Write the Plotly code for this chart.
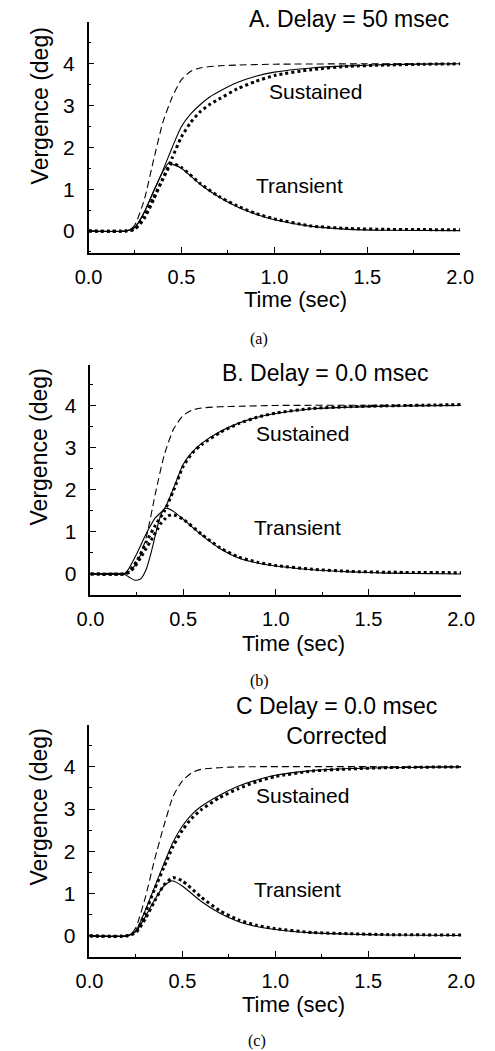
import plotly.graph_objects as go

# ---------------- data ----------------
# Panel A: Delay = 50 msec
a_dash_t = [0, 0.2, 0.22, 0.25, 0.3, 0.35, 0.4, 0.45, 0.5, 0.55, 0.6, 0.7, 0.8, 1.0, 1.5, 2.0]
a_dash_v = [0, 0, 0.02, 0.15, 0.75, 1.7, 2.6, 3.2, 3.62, 3.82, 3.9, 3.95, 3.97, 3.99, 4.0, 4.0]
a_sus_t = [0, 0.2, 0.25, 0.3, 0.35, 0.4, 0.45, 0.5, 0.55, 0.6, 0.65, 0.7, 0.8, 0.9, 1.0, 1.2, 1.4, 1.6, 1.8, 2.0]
a_sus_solid = [0, 0, 0.08, 0.45, 0.95, 1.45, 2.0, 2.5, 2.8, 3.02, 3.2, 3.33, 3.55, 3.7, 3.8, 3.9, 3.95, 3.98, 3.99, 4.0]
a_sus_dot = [0, 0, 0.05, 0.35, 0.8, 1.25, 1.75, 2.25, 2.6, 2.85, 3.02, 3.15, 3.4, 3.58, 3.72, 3.86, 3.94, 3.97, 3.99, 4.0]
a_tr_t = [0, 0.2, 0.25, 0.3, 0.35, 0.4, 0.43, 0.45, 0.5, 0.6, 0.7, 0.8, 0.9, 1.0, 1.2, 1.4, 1.6, 2.0]
a_tr_solid = [0, 0, 0.1, 0.45, 0.95, 1.42, 1.62, 1.6, 1.5, 1.12, 0.82, 0.58, 0.4, 0.27, 0.11, 0.04, 0.02, 0.01]
a_tr_dot = [0, 0, 0.05, 0.3, 0.75, 1.25, 1.5, 1.62, 1.52, 1.14, 0.83, 0.6, 0.42, 0.29, 0.12, 0.06, 0.04, 0.03]

# Panel B: Delay = 0.0 msec
b_dash_t = [0, 0.18, 0.2, 0.25, 0.3, 0.35, 0.4, 0.45, 0.5, 0.55, 0.6, 0.7, 0.8, 1.0, 2.0]
b_dash_v = [0, 0, 0.03, 0.25, 0.85, 1.9, 2.85, 3.45, 3.76, 3.89, 3.94, 3.97, 3.98, 4.0, 4.0]
b_sus_t = [0, 0.18, 0.2, 0.25, 0.3, 0.35, 0.4, 0.45, 0.5, 0.55, 0.6, 0.7, 0.8, 0.9, 1.0, 1.2, 1.4, 1.6, 2.0]
b_sus_solid = [0, 0, 0.08, 0.48, 0.95, 1.33, 1.55, 2.05, 2.6, 2.9, 3.1, 3.38, 3.58, 3.72, 3.81, 3.92, 3.96, 3.98, 4.0]
b_sus_dot = [0, 0, 0.03, 0.3, 0.75, 1.15, 1.5, 2.0, 2.55, 2.87, 3.07, 3.36, 3.57, 3.72, 3.82, 3.93, 3.97, 3.99, 4.02]
b_tr_t = [0, 0.18, 0.21, 0.24, 0.27, 0.3, 0.33, 0.36, 0.38, 0.4, 0.42, 0.45, 0.5, 0.6, 0.7, 0.8, 0.9, 1.0, 1.2, 1.4, 1.6, 2.0]
b_tr_solid = [0, 0, -0.08, -0.15, -0.12, 0.1, 0.55, 1.1, 1.4, 1.55, 1.55, 1.48, 1.3, 0.92, 0.6, 0.38, 0.26, 0.19, 0.1, 0.05, 0.02, 0.0]
b_tr_dot = [0, 0, 0.04, 0.18, 0.38, 0.6, 0.82, 1.05, 1.2, 1.3, 1.38, 1.4, 1.3, 0.94, 0.62, 0.4, 0.28, 0.2, 0.11, 0.06, 0.04, 0.03]

# Panel C: Delay = 0.0 msec, Corrected
c_dash_t = [0, 0.2, 0.22, 0.25, 0.3, 0.35, 0.4, 0.45, 0.5, 0.55, 0.6, 0.7, 0.8, 2.0]
c_dash_v = [0, 0, 0.03, 0.2, 0.9, 1.8, 2.6, 3.3, 3.67, 3.86, 3.94, 3.98, 4.0, 4.0]
c_sus_t = [0, 0.2, 0.25, 0.3, 0.35, 0.4, 0.45, 0.5, 0.55, 0.6, 0.7, 0.8, 0.9, 1.0, 1.2, 1.4, 1.6, 2.0]
c_sus_solid = [0, 0, 0.12, 0.6, 1.15, 1.7, 2.22, 2.6, 2.87, 3.06, 3.33, 3.54, 3.69, 3.8, 3.91, 3.96, 3.98, 4.0]
c_sus_dot = [0, 0, 0.1, 0.55, 1.1, 1.62, 2.12, 2.5, 2.78, 2.98, 3.27, 3.48, 3.65, 3.77, 3.9, 3.95, 3.98, 4.0]
c_tr_t = [0, 0.2, 0.25, 0.3, 0.35, 0.4, 0.44, 0.45, 0.5, 0.6, 0.7, 0.8, 0.9, 1.0, 1.2, 1.4, 1.6, 2.0]
c_tr_solid = [0, 0, 0.1, 0.45, 0.85, 1.18, 1.3, 1.3, 1.18, 0.82, 0.54, 0.34, 0.22, 0.15, 0.07, 0.04, 0.02, 0.01]
c_tr_dot = [0, 0, 0.08, 0.4, 0.82, 1.2, 1.36, 1.38, 1.3, 0.92, 0.6, 0.38, 0.25, 0.17, 0.08, 0.05, 0.03, 0.02]

x_ticks = [0.0, 0.5, 1.0, 1.5, 2.0]
x_tick_text = ["0.0", "0.5", "1.0", "1.5", "2.0"]
y_ticks = [0, 1, 2, 3, 4]

panel_titles = ["A. Delay = 50 msec", "B. Delay = 0.0 msec", "C Delay = 0.0 msec<br>Corrected"]
captions = ["(a)", "(b)", "(c)"]

panels = [
    (a_dash_t, a_dash_v, a_sus_t, a_sus_solid, a_sus_dot, a_tr_t, a_tr_solid, a_tr_dot),
    (b_dash_t, b_dash_v, b_sus_t, b_sus_solid, b_sus_dot, b_tr_t, b_tr_solid, b_tr_dot),
    (c_dash_t, c_dash_v, c_sus_t, c_sus_solid, c_sus_dot, c_tr_t, c_tr_solid, c_tr_dot),
]

# ---------------- layout geometry ----------------
W, H = 495, 1051
# (left px, right px, top px, bottom px, y-range)
geom = [
    (79, 473, 22, 253, [-0.526, 5.0]),
    (81, 474, 365, 595, [-0.50, 4.96]),
    (80, 474, 725, 957, [-0.50, 4.99]),
]
title_pos = [(355, 19), (330, 373), (342, 721)]
sus_pos = [(320, 92), (306, 433), (306, 795)]
tr_pos = [(303, 185), (300, 527), (300, 889)]
xlab_pos = [(298, 300), (296, 643), (296, 1004)]
ylab_pos = [(28, 106), (27, 447), (27, 807)]
cap_pos = [(260, 339), (260, 681), (258, 1041)]

FONT = "Liberation Sans, Arial, sans-serif"

fig = go.Figure()
line_cfg = dict(shape="spline", smoothing=0.6)

for i, (dt, dv, st, ss, sd, tt, ts, td) in enumerate(panels):
    xa = "x" if i == 0 else f"x{i+1}"
    ya = "y" if i == 0 else f"y{i+1}"
    fig.add_trace(go.Scatter(x=dt, y=dv, mode="lines", xaxis=xa, yaxis=ya,
                             line=dict(color="black", width=1.1, dash="7px,4px", **line_cfg),
                             showlegend=False, hoverinfo="skip"))
    fig.add_trace(go.Scatter(x=st, y=ss, mode="lines", xaxis=xa, yaxis=ya,
                             line=dict(color="black", width=1.1, **line_cfg),
                             showlegend=False, hoverinfo="skip"))
    fig.add_trace(go.Scatter(x=st, y=sd, mode="lines", xaxis=xa, yaxis=ya,
                             line=dict(color="black", width=3, dash="3px,3px", **line_cfg),
                             showlegend=False, hoverinfo="skip"))
    fig.add_trace(go.Scatter(x=tt, y=ts, mode="lines", xaxis=xa, yaxis=ya,
                             line=dict(color="black", width=1.1, **line_cfg),
                             showlegend=False, hoverinfo="skip"))
    fig.add_trace(go.Scatter(x=tt, y=td, mode="lines", xaxis=xa, yaxis=ya,
                             line=dict(color="black", width=3, dash="3px,3px", **line_cfg),
                             showlegend=False, hoverinfo="skip"))

layout = dict(
    width=W, height=H, margin=dict(l=0, r=0, t=0, b=0),
    paper_bgcolor="white", plot_bgcolor="white",
    font=dict(family=FONT, color="black"),
    annotations=[],
)

for i, (l, r, t, b, yr) in enumerate(geom):
    xk = "xaxis" if i == 0 else f"xaxis{i+1}"
    yk = "yaxis" if i == 0 else f"yaxis{i+1}"
    ya = "y" if i == 0 else f"y{i+1}"
    xa = "x" if i == 0 else f"x{i+1}"
    layout[xk] = dict(
        domain=[l / W, r / W], anchor=ya, range=[0, 2.0],
        showgrid=False, zeroline=False, showline=True, linecolor="black", linewidth=1.5,
        ticks="inside", ticklen=6, tickwidth=1.2, tickcolor="black",
        tickvals=x_ticks, ticktext=x_tick_text,
        tickfont=dict(size=20, family=FONT), ticklabelstandoff=5,
        minor=dict(dtick=0.25, tick0=0, ticks="inside", ticklen=3, tickcolor="black", tickwidth=1),
    )
    layout[yk] = dict(
        domain=[1 - b / H, 1 - t / H], anchor=xa, range=yr,
        showgrid=False, zeroline=False, showline=True, linecolor="black", linewidth=1.5,
        ticks="inside", ticklen=6, tickwidth=1.2, tickcolor="black",
        tickvals=y_ticks, tickfont=dict(size=21, family=FONT), ticklabelstandoff=8,
        minor=dict(dtick=0.5, tick0=0, ticks="inside", ticklen=3, tickcolor="black", tickwidth=1),
    )
    anns = layout["annotations"]
    anns.append(dict(text=panel_titles[i], x=title_pos[i][0] / W, y=1 - title_pos[i][1] / H,
                     xref="paper", yref="paper", showarrow=False, xanchor="center", yanchor="middle",
                     font=dict(size=23, family=FONT)))
    anns.append(dict(text="Sustained", x=sus_pos[i][0] / W, y=1 - sus_pos[i][1] / H,
                     xref="paper", yref="paper", showarrow=False, xanchor="center", yanchor="middle",
                     font=dict(size=21, family=FONT)))
    anns.append(dict(text="Transient", x=tr_pos[i][0] / W, y=1 - tr_pos[i][1] / H,
                     xref="paper", yref="paper", showarrow=False, xanchor="center", yanchor="middle",
                     font=dict(size=21, family=FONT)))
    anns.append(dict(text="Time (sec)", x=xlab_pos[i][0] / W, y=1 - xlab_pos[i][1] / H,
                     xref="paper", yref="paper", showarrow=False, xanchor="center", yanchor="middle",
                     font=dict(size=22, family=FONT)))
    anns.append(dict(text="Vergence (deg)", x=ylab_pos[i][0] / W, y=1 - ylab_pos[i][1] / H,
                     xref="paper", yref="paper", showarrow=False, xanchor="center", yanchor="middle",
                     textangle=-90, font=dict(size=23, family=FONT)))
    anns.append(dict(text=captions[i], x=cap_pos[i][0] / W, y=1 - cap_pos[i][1] / H,
                     xref="paper", yref="paper", showarrow=False, xanchor="center", yanchor="middle",
                     font=dict(size=16, family="Liberation Serif, Times New Roman, serif")))

fig.update_layout(**layout)
fig.write_html("out.html")
